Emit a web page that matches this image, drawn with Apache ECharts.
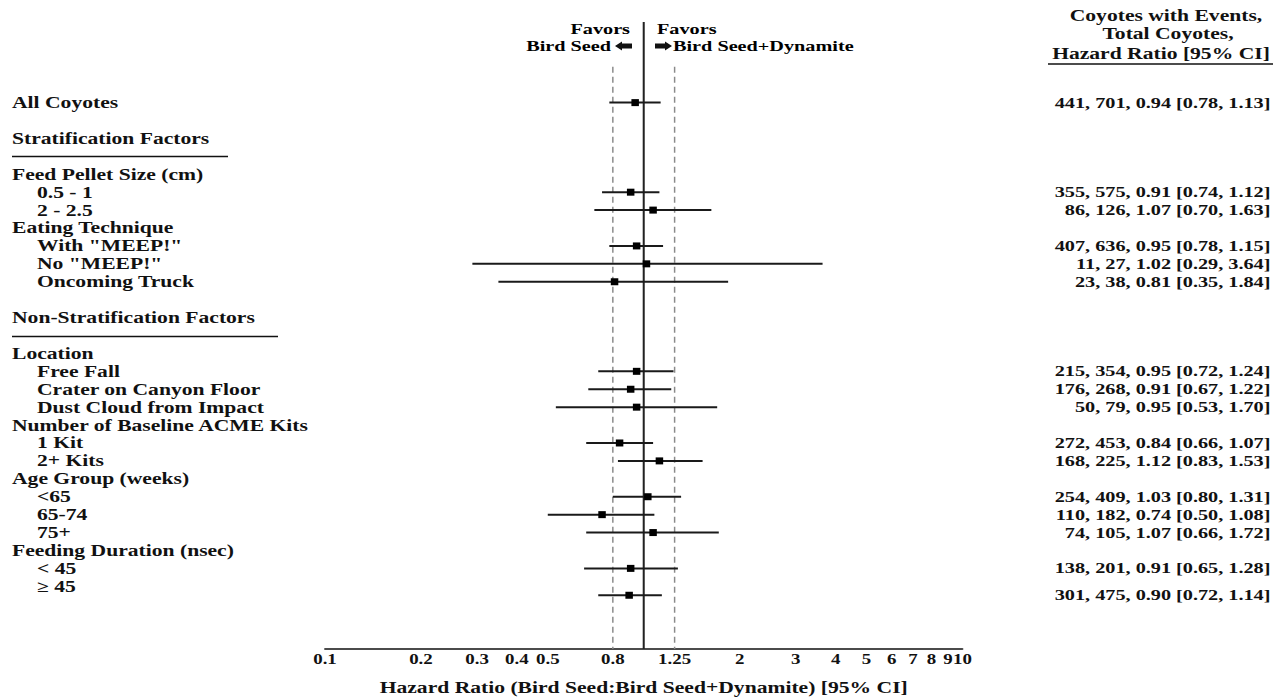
<!DOCTYPE html>
<html>
<head>
<meta charset="utf-8">
<title>Hazard Ratio Forest Plot</title>
<script src="https://cdn.jsdelivr.net/npm/echarts@6/dist/echarts.min.js"></script>
<style>
  html, body { margin: 0; padding: 0; background: #fff; overflow: hidden; }
  #chart { height: 698px; transform-origin: 0 0; }
</style>
</head>
<body>
<div id="chart"></div>
<script>
// ---- Rows of the table, top to bottom ----
const rowLabels = [
  'All Coyotes', '', 'Stratification Factors', '',
  'Feed Pellet Size (cm)', '0.5 - 1', '2 - 2.5',
  'Eating Technique', 'With "MEEP!"', 'No "MEEP!"', 'Oncoming Truck', '',
  'Non-Stratification Factors', '',
  'Location', 'Free Fall', 'Crater on Canyon Floor', 'Dust Cloud from Impact',
  'Number of Baseline ACME Kits', '1 Kit', '2+ Kits',
  'Age Group (weeks)', '<65', '65-74', '75+',
  'Feeding Duration (nsec)', '< 45', '≥ 45'
];
const sectionTitles = ['Stratification Factors', 'Non-Stratification Factors'];

// ---- Estimates per subgroup ----
const subgroups = ['All Coyotes', '0.5 - 1', '2 - 2.5', 'With "MEEP!"', 'No "MEEP!"', 'Oncoming Truck',
  'Free Fall', 'Crater on Canyon Floor', 'Dust Cloud from Impact', '1 Kit', '2+ Kits',
  '<65', '65-74', '75+', '< 45', '≥ 45'];
const events      = [441, 355, 86, 407, 11, 23, 215, 176, 50, 272, 168, 254, 110, 74, 138, 301];
const totals      = [701, 575, 126, 636, 27, 38, 354, 268, 79, 453, 225, 409, 182, 105, 201, 475];
const hazardRatio = [0.94, 0.91, 1.07, 0.95, 1.02, 0.81, 0.95, 0.91, 0.95, 0.84, 1.12, 1.03, 0.74, 1.07, 0.91, 0.90];
const ciLower     = [0.78, 0.74, 0.70, 0.78, 0.29, 0.35, 0.72, 0.67, 0.53, 0.66, 0.83, 0.80, 0.50, 0.66, 0.65, 0.72];
const ciUpper     = [1.13, 1.12, 1.63, 1.15, 3.64, 1.84, 1.24, 1.22, 1.70, 1.07, 1.53, 1.31, 1.08, 1.72, 1.28, 1.14];

// ---- Axis ----
const xTickValues = [0.1, 0.2, 0.3, 0.4, 0.5, 0.8, 1.25, 2, 3, 4, 5, 6, 7, 8, 9, 10];
const nullEffect = 1;
const equivalenceBounds = [0.8, 1.25];

// The plot is laid out on a narrower sheet and widened horizontally,
// giving the broad, old-style serif lettering.
const STRETCH = 1.35;
const PAGE_W = 1279;
const X = v => v / STRETCH;

const el = document.getElementById('chart');
el.style.width = (PAGE_W / STRETCH) + 'px';
el.style.transform = 'scaleX(' + STRETCH + ')';

const FONT = '"Liberation Serif", "Times New Roman", serif';
const INK = '#111';

// Half-row slots on the vertical axis: table rows are two slots apart.
const SLOT_COUNT = 71;
const FIRST_SLOT = 9;
const slotOf = row => FIRST_SLOT + 2 * row;
// the "≥ 45" estimate is set half a row below its label
const estimateShift = { '≥ 45': 1 };

const leftCats = new Array(SLOT_COUNT).fill('');
rowLabels.forEach((t, i) => { if (t) leftCats[slotOf(i)] = t; });

const rightCats = new Array(SLOT_COUNT).fill('');
const ciData = subgroups.map((name, i) => {
  const slot = slotOf(rowLabels.indexOf(name)) + (estimateShift[name] || 0);
  rightCats[slot] = events[i] + ', ' + totals[i] + ', ' + hazardRatio[i].toFixed(2) +
    ' [' + ciLower[i].toFixed(2) + ', ' + ciUpper[i].toFixed(2) + ']';
  return [ciLower[i], ciUpper[i], hazardRatio[i], slot];
});
const indented = new Set(subgroups.slice(1));

const MARK_W = X(7.5), MARK_H = 7;

const chart = echarts.init(el, null, { renderer: 'svg' });

const textStyle = (size, extra) => Object.assign({
  font: 'bold ' + size + 'px ' + FONT, fill: INK
}, extra);
const richFont = { fontFamily: FONT, fontWeight: 'bold', fontSize: 16, color: INK };
const captionFont = { fontFamily: FONT, fontWeight: 'bold', fontSize: 15, color: INK, lineHeight: 17 };

const option = {
  animation: false,
  backgroundColor: '#fff',
  textStyle: { fontFamily: FONT, fontWeight: 'bold', color: INK },
  grid: {
    left: X(325), right: X(PAGE_W - 963), top: 22, bottom: 698 - 649,
    containLabel: false, outerBoundsMode: 'none'
  },
  xAxis: {
    type: 'log', logBase: 10, min: 0.1, max: 10,
    name: 'Hazard Ratio (Bird Seed:Bird Seed+Dynamite) [95% CI]',
    nameLocation: 'middle', nameGap: 31,
    nameTextStyle: { fontFamily: FONT, fontWeight: 'bold', fontSize: 16, color: INK },
    axisLine: { show: true, lineStyle: { color: INK, width: 1.5 } },
    axisTick: { show: false },
    minorTick: { show: false },
    splitLine: { show: false },
    axisLabel: {
      customValues: xTickValues,
      formatter: v => String(Math.round(v * 100) / 100),
      margin: 3, hideOverlap: false,
      fontFamily: FONT, fontWeight: 'bold', fontSize: 14, color: INK
    }
  },
  yAxis: [{
    type: 'category', inverse: true, boundaryGap: false, data: leftCats,
    axisLine: { show: false }, axisTick: { show: false }, splitLine: { show: false },
    axisLabel: {
      interval: 0, align: 'left', margin: X(325 - 12),
      formatter: v => v ? (indented.has(v) ? '{sub|' + v + '}' : '{head|' + v + '}') : '',
      rich: {
        head: richFont,
        sub: Object.assign({ padding: [0, 0, 0, X(25)] }, richFont)
      }
    }
  }, {
    type: 'category', inverse: true, boundaryGap: false, position: 'right', data: rightCats,
    axisLine: { show: false }, axisTick: { show: false }, splitLine: { show: false },
    axisLabel: {
      interval: 0, align: 'right', margin: X(1271 - 963),
      fontFamily: FONT, fontWeight: 'bold', fontSize: 15, color: INK
    }
  }],
  series: [
    {
      name: 'No effect', type: 'line', silent: true, symbol: 'none', z: 1,
      data: [[nullEffect, 0], [nullEffect, SLOT_COUNT - 1]],
      lineStyle: { color: '#222', width: 1.5 }
    },
    ...equivalenceBounds.map(b => ({
      name: 'Bound ' + b, type: 'line', silent: true, symbol: 'none', z: 1,
      data: [[b, 5], [b, SLOT_COUNT - 1]],
      lineStyle: { color: '#8a8a8a', width: 1.1, type: [6, 4] }
    })),
    {
      name: 'Hazard ratio', type: 'custom', z: 3,
      encode: { x: [0, 1, 2], y: 3 },
      data: ciData,
      renderItem: (params, api) => {
        const slot = api.value(3);
        const p0 = api.coord([api.value(0), slot]);
        const p1 = api.coord([api.value(1), slot]);
        const pc = api.coord([api.value(2), slot]);
        return {
          type: 'group',
          children: [
            { type: 'line', shape: { x1: p0[0], y1: p0[1], x2: p1[0], y2: p1[1] },
              style: { stroke: '#1a1a1a', lineWidth: 2 } },
            { type: 'rect', shape: { x: pc[0] - MARK_W / 2, y: pc[1] - MARK_H / 2, width: MARK_W, height: MARK_H },
              style: { fill: '#000' } }
          ]
        };
      }
    }
  ],
  graphic: [
    // column header on the right
    { type: 'text', id: 'h1', style: textStyle(16, { text: 'Coyotes with Events,', x: X(1166), y: 16, align: 'center', verticalAlign: 'middle' }) },
    { type: 'text', id: 'h2', style: textStyle(16, { text: 'Total Coyotes,', x: X(1168), y: 34, align: 'center', verticalAlign: 'middle' }) },
    { type: 'text', id: 'h3', style: textStyle(16, { text: 'Hazard Ratio [95% CI]', x: X(1161), y: 54, align: 'center', verticalAlign: 'middle' }) },
    { type: 'line', id: 'h3u', shape: { x1: X(1048), y1: 64, x2: X(1273), y2: 64 }, style: { stroke: INK, lineWidth: 1.5 } },
    // direction captions, two tightly set lines each
    { type: 'text', id: 'fl', style: {
        text: '{a|Favors}\n{b|Bird Seed}', x: X(630), y: 37.5, align: 'right', verticalAlign: 'middle',
        rich: {
          a: captionFont,
          b: Object.assign({ padding: [0, X(19), 0, 0] }, captionFont)
        }
      } },
    { type: 'polygon', id: 'al', shape: { points: [
        [X(615), 46], [X(622), 41.5], [X(622), 43.5], [X(632), 43.5], [X(632), 48.5], [X(622), 48.5], [X(622), 50.5]
      ] }, style: { fill: INK } },
    { type: 'text', id: 'fr', style: {
        text: '{a|Favors}\n{b|Bird Seed+Dynamite}', x: X(657), y: 37.5, align: 'left', verticalAlign: 'middle',
        rich: {
          a: captionFont,
          b: Object.assign({ padding: [0, 0, 0, X(16)] }, captionFont)
        }
      } },
    { type: 'polygon', id: 'ar', shape: { points: [
        [X(672), 46], [X(665), 41.5], [X(665), 43.5], [X(655), 43.5], [X(655), 48.5], [X(665), 48.5], [X(665), 50.5]
      ] }, style: { fill: INK } }
  ]
};

chart.setOption(option);

// rules under the section titles, one row below each title
const ruleWidths = { 'Stratification Factors': 216, 'Non-Stratification Factors': 266 };
chart.setOption({
  graphic: sectionTitles.map((t, i) => {
    const y = Math.round(chart.convertToPixel({ yAxisIndex: 0 }, slotOf(rowLabels.indexOf(t) + 1))) + 0.5;
    return {
      type: 'line', id: 'rule' + i,
      shape: { x1: X(12), y1: y, x2: X(12 + ruleWidths[t]), y2: y },
      style: { stroke: INK, lineWidth: 1.5 }
    };
  })
});
</script>
</body>
</html>
